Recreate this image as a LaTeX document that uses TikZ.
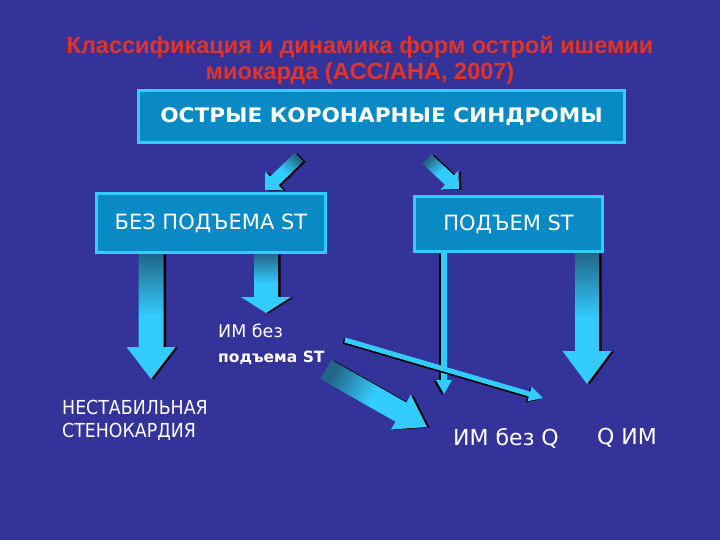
\documentclass[tikz,border=0pt]{standalone}
\usepackage{fontspec}
\setmainfont{DejaVu Sans}
\newfontfamily\narrowsans{DejaVu Sans}[FakeStretch=0.9]
\newfontfamily\widesans{DejaVu Sans}[FakeStretch=1.08]
\newfontfamily\headfont{Liberation Sans}
\usepackage{tikz}
\usetikzlibrary{calc,positioning,backgrounds}
\definecolor{slide}{HTML}{333399}
\definecolor{heading}{HTML}{E23428}
\definecolor{boxfill}{HTML}{0A8AC5}
\definecolor{cyanline}{HTML}{33CCFF}
\definecolor{deepteal}{HTML}{226688}
\tikzset{fatarrow/.style n args={3}{to path={let \p1=($(\tikztotarget)-(\tikztostart)$),\n1={atan2(\y1,\x1)},\n2={veclen(\x1,\y1)} in {[shift={(\tikztostart)},rotate=\n1] (0pt,#1pt)--(\n2-#3pt,#1pt)--(\n2-#3pt,#2pt)--(\n2,0pt)--(\n2-#3pt,-#2pt)--(\n2-#3pt,-#1pt)--(0pt,-#1pt)--cycle}}},
rightshade/.style={preaction={fill=black,transform canvas={shift={(2.5pt,-0.5pt)}}}},leftshade/.style={preaction={fill=black,transform canvas={shift={(-1.8pt,-1.2pt)}}}},
gradarrow/.style={rightshade,top color=deepteal,bottom color=cyanline,middle color=cyanline},thinarrow/.style={leftshade,fill=cyanline},
classbox/.style={draw=cyanline,line width=3pt,fill=boxfill,text=white,inner sep=0pt,font=\fontsize{21}{24}\selectfont},
caption/.style={text=white,inner sep=0pt,font=\fontsize{22}{24}\selectfont},
headline/.style={text=heading,align=center,inner sep=0pt,font=\headfont\bfseries\fontsize{23.5}{26.5}\selectfont}}

\begin{document}
\begin{tikzpicture}[x=1pt,y=-1pt]
\useasboundingbox (0,0) rectangle (720,540);
\node[headline] (title) at (360,60) {Классификация и динамика форм острой ишемии\\миокарда (ACC/AHA, 2007)};
\node[classbox,minimum width=486pt,minimum height=52pt,font=\widesans\bfseries\fontsize{20}{22}\selectfont] (acs) at (381.5,116.5) {ОСТРЫЕ КОРОНАРНЫЕ СИНДРОМЫ};
\node[classbox,minimum width=229pt,minimum height=59pt] (nost) at (211,223) {БЕЗ ПОДЪЕМА ST};
\node[classbox,minimum width=188pt,minimum height=55pt] (st) at (508.5,224) {ПОДЪЕМ ST};
\node[caption,align=left,anchor=west,font=\narrowsans\fontsize{19.3}{23}\selectfont] (unst) at (62,420.5) {НЕСТАБИЛЬНАЯ\\СТЕНОКАРДИЯ};
\node[caption,align=left,anchor=west,font=\fontsize{17.5}{25}\selectfont] (nstemi) at (218,344.5) {ИМ без\\{\bfseries\fontsize{15.5}{25}\selectfont подъема ST}};
\node[caption] (nonq) at (506,438) {ИМ без Q};
\node[caption] (qmi) at (627,438) {Q ИМ};
\coordinate (dltail) at (299,157);\coordinate (dltip) at (265,190);
\coordinate (drtail) at (427,159);\coordinate (drtip) at (459,189);
\coordinate (unsttip) at (151,379);\coordinate (nstemitip) at (266,313);\coordinate (qtip) at (587,384);
\coordinate (thintip) at (444,394);\coordinate (bigtail) at (326,369.5);\coordinate (bigtip) at (427,427);
\coordinate (thintail) at (345,340);\coordinate (thinend) at (543,398);
\begin{scope}[on background layer]
\fill[slide] (0,0) rectangle (720,540);
\path[gradarrow,shading angle=-45,fatarrow={6}{13}{13}] (dltail) to (dltip);
\path[gradarrow,shading angle=45,fatarrow={6.5}{13}{13}] (drtail) to (drtip);
\path[gradarrow,fatarrow={12.5}{24.5}{32}] (nost.south -| unsttip) to (unsttip);
\path[gradarrow,fatarrow={12}{25}{16}] (nost.south -| nstemitip) to (nstemitip);
\path[gradarrow,fatarrow={12}{24.5}{33}] (st.south -| qtip) to (qtip);
\path[thinarrow,fatarrow={3}{8}{14}] (st.south -| thintip) to (thintip);
\path[gradarrow,shading angle=60,fatarrow={11}{20}{30}] (bigtail) to (bigtip);
\path[thinarrow,fatarrow={2.5}{7.5}{14}] (thintail) to (thinend);
\end{scope}
\end{tikzpicture}
\end{document}
